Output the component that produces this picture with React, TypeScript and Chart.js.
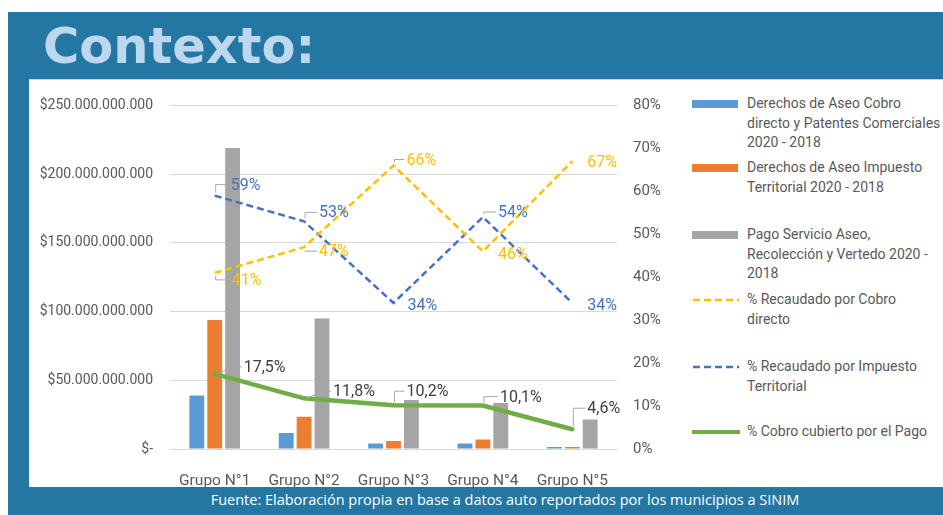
import React, { useEffect, useRef } from "react";
import { Chart, registerables } from "chart.js";

Chart.register(...registerables);

const categories = ["Grupo N°1", "Grupo N°2", "Grupo N°3", "Grupo N°4", "Grupo N°5"];
const cobroDirecto = [39e9, 11.6e9, 4e9, 4e9, 1.5e9];
const impuestoTerritorial = [93.8e9, 23.5e9, 5.9e9, 6.9e9, 1.5e9];
const pagoServicio = [219e9, 95e9, 35.6e9, 33.5e9, 21.4e9];
const pctCobroDirecto = [41, 47, 66, 46, 67];
const pctImpuesto = [59, 53, 34, 54, 34];
const pctCubierto = [17.5, 11.8, 10.2, 10.1, 4.6];

const seriesNames = [
  "Derechos de Aseo Cobro directo y Patentes Comerciales 2020 - 2018",
  "Derechos de Aseo Impuesto Territorial 2020 - 2018",
  "Pago Servicio Aseo, Recolección y Vertedo 2020 - 2018",
  "% Recaudado por Cobro directo",
  "% Recaudado por Impuesto Territorial",
  "% Cobro cubierto por el Pago",
];
const legendLines = [
  ["Derechos de Aseo Cobro", "directo y Patentes Comerciales", "2020 - 2018"],
  ["Derechos de Aseo Impuesto", "Territorial 2020 - 2018"],
  ["Pago Servicio Aseo,", "Recolección y Vertedo 2020 -", "2018"],
  ["% Recaudado por Cobro", "directo"],
  ["% Recaudado por Impuesto", "Territorial"],
  ["% Cobro cubierto por el Pago"],
];

const C_BLUE = "#5B9BD5";
const C_ORANGE = "#ED7D31";
const C_GRAY = "#A5A5A5";
const C_YELLOW = "#FFC000";
const C_DBLUE = "#4472C4";
const C_GREEN = "#70AD47";
const TEXT = "#595959";
const FONT = "Roboto";

// label offsets (dx, dy) relative to each point, and whether a leader line is drawn
const yellowOffsets = [[17, 7, 1], [15, 4, 1], [13, -6, 1], [15, 3, 0], [15, 1, 0]];
const blueOffsets = [[16, -11, 1], [15, -9, 1], [14, 2, 0], [15, -5, 1], [15, 2, 0]];
const greenOffsets = [[29, -7, 1], [29, -7, 1], [13, -14, 1], [17, -9, 1], [15, -21, 1]];

function fmtMoney(v: number): string {
  if (v === 0) return "$-";
  const s = Math.round(v).toString();
  return "$" + s.replace(/\B(?=(\d{3})+(?!\d))/g, ".");
}
function fmtPct(v: number): string {
  return String(v).replace(".", ",") + "%";
}

const labelPlugin = {
  id: "pointLabels",
  afterDatasetsDraw(chart: any) {
    const ctx = chart.ctx;
    const specs = [
      { idx: 3, values: pctCobroDirecto, offs: yellowOffsets, color: C_YELLOW },
      { idx: 4, values: pctImpuesto, offs: blueOffsets, color: C_DBLUE },
      { idx: 5, values: pctCubierto, offs: greenOffsets, color: "#404040" },
    ];
    ctx.save();
    ctx.font = `16px ${FONT}`;
    ctx.textBaseline = "middle";
    ctx.textAlign = "left";
    for (const s of specs) {
      const meta = chart.getDatasetMeta(s.idx);
      meta.data.forEach((pt: any, j: number) => {
        const [dx, dy, leader] = s.offs[j];
        const tx = pt.x + dx;
        const ty = pt.y + dy;
        if (leader) {
          ctx.strokeStyle = "#A6A6A6";
          ctx.lineWidth = 1;
          ctx.beginPath();
          if (Math.abs(dx) < 20) {
            ctx.moveTo(pt.x + 1, pt.y + (dy > 0 ? 3 : -3));
            ctx.lineTo(pt.x + 1, ty);
            ctx.lineTo(tx - 2, ty);
          } else {
            ctx.moveTo(pt.x + 2, pt.y);
            ctx.lineTo(tx - 10, ty);
            ctx.lineTo(tx - 2, ty);
          }
          ctx.stroke();
        }
        ctx.fillStyle = s.color;
        ctx.fillText(fmtPct(s.values[j]), tx, ty + 1);
      });
    }
    ctx.restore();
  },
};

function Swatch({ i }: { i: number }) {
  if (i < 3) {
    const c = [C_BLUE, C_ORANGE, C_GRAY][i];
    return <div style={{ width: 46, height: 8, background: c }} />;
  }
  const c = [C_YELLOW, C_DBLUE, C_GREEN][i - 3];
  const w = i === 5 ? 4 : 2.5;
  return (
    <svg width={48} height={8} style={{ display: "block" }}>
      <line x1={1} y1={4} x2={47} y2={4} stroke={c} strokeWidth={w}
        strokeDasharray={i === 5 ? undefined : "7 4"} strokeLinecap={i === 5 ? "round" : "butt"} />
    </svg>
  );
}

const legendTops = [104, 168, 235, 300, 367, 432];

export default function App() {
  const ref = useRef<HTMLCanvasElement | null>(null);
  useEffect(() => {
    if (!ref.current) return;
    const chart = new Chart(ref.current, {
      type: "bar",
      data: {
        labels: categories,
        datasets: [
          { type: "bar", label: seriesNames[0], data: cobroDirecto, backgroundColor: C_BLUE, yAxisID: "y", order: 2 },
          { type: "bar", label: seriesNames[1], data: impuestoTerritorial, backgroundColor: C_ORANGE, yAxisID: "y", order: 2 },
          { type: "bar", label: seriesNames[2], data: pagoServicio, backgroundColor: C_GRAY, yAxisID: "y", order: 2 },
          { type: "line", label: seriesNames[3], data: pctCobroDirecto, borderColor: C_YELLOW, borderWidth: 2.5, borderDash: [7, 4], pointRadius: 0, yAxisID: "y1", order: 1, tension: 0 },
          { type: "line", label: seriesNames[4], data: pctImpuesto, borderColor: C_DBLUE, borderWidth: 2.5, borderDash: [7, 4], pointRadius: 0, yAxisID: "y1", order: 1, tension: 0 },
          { type: "line", label: seriesNames[5], data: pctCubierto, borderColor: C_GREEN, borderWidth: 4.5, pointRadius: 0, yAxisID: "y1", order: 0, tension: 0, borderCapStyle: "round" },
        ] as any,
      },
      options: {
        animation: false,
        responsive: false,
        maintainAspectRatio: false,
        layout: { padding: { top: 18, left: 0, right: 0, bottom: 0 } },
        datasets: { bar: { categoryPercentage: 0.6, barPercentage: 0.83 } } as any,
        plugins: { legend: { display: false }, tooltip: { enabled: false } },
        scales: {
          x: {
            grid: { display: false },
            border: { display: false },
            ticks: { color: TEXT, font: { family: FONT, size: 15.5 }, padding: 15 },
            afterFit: (s: any) => { s.height = 38; },
          },
          y: {
            position: "left",
            min: 0,
            max: 250e9,
            grid: { color: "#D9D9D9", drawTicks: false, lineWidth: 1 },
            border: { display: false },
            ticks: { stepSize: 50e9, color: TEXT, font: { family: FONT, size: 14 }, padding: 17, callback: (v: any) => fmtMoney(Number(v)) },
            afterFit: (s: any) => { s.width = 141; },
          },
          y1: {
            position: "right",
            min: 0,
            max: 80,
            grid: { display: false, drawTicks: false },
            border: { display: false },
            ticks: { stepSize: 10, color: TEXT, font: { family: FONT, size: 15 }, padding: 16, callback: (v: any) => v + "%" },
            afterFit: (s: any) => { s.width = 72; },
          },
        },
      } as any,
      plugins: [labelPlugin],
    });
    return () => chart.destroy();
  }, []);

  return (
    <div style={{ position: "fixed", left: 0, top: 0, width: 943, height: 515, background: "#fff", overflow: "hidden" }}>
      <div style={{ position: "absolute", left: 8, top: 12, width: 935, height: 503, background: "#2577A3" }} />
      <div style={{ position: "absolute", left: 43, top: 22, fontFamily: "DejaVu Sans", fontWeight: "bold", fontSize: 49.5, lineHeight: "49px", color: "#BDD7EE", whiteSpace: "nowrap" }}>
        Contexto:
      </div>
      <div style={{ position: "absolute", left: 29, top: 79, width: 914, height: 408, background: "#fff", borderTop: "1px solid #D0D0D0", boxSizing: "border-box" }} />
      <canvas ref={ref} width={660} height={407} style={{ position: "absolute", left: 29, top: 80, width: 660, height: 407 }} />
      {legendLines.map((lines, i) => (
        <div key={i} style={{ position: "absolute", left: 692, top: legendTops[i] - 10, display: "flex", alignItems: "flex-start" }}>
          <div style={{ marginTop: 6, width: 55 }}><Swatch i={i} /></div>
          <div style={{ fontFamily: FONT, fontSize: 14, lineHeight: "19.5px", color: TEXT, whiteSpace: "nowrap" }}>
            {lines.map((l, k) => <div key={k}>{l}</div>)}
          </div>
        </div>
      ))}
      <div style={{ position: "absolute", left: 0, top: 490, width: 1010, textAlign: "center", fontFamily: "Open Sans", fontSize: 14.5, lineHeight: "20px", color: "#fff", whiteSpace: "nowrap" }}>
        Fuente: Elaboración propia en base a datos auto reportados por los municipios a SINIM
      </div>
    </div>
  );
}
